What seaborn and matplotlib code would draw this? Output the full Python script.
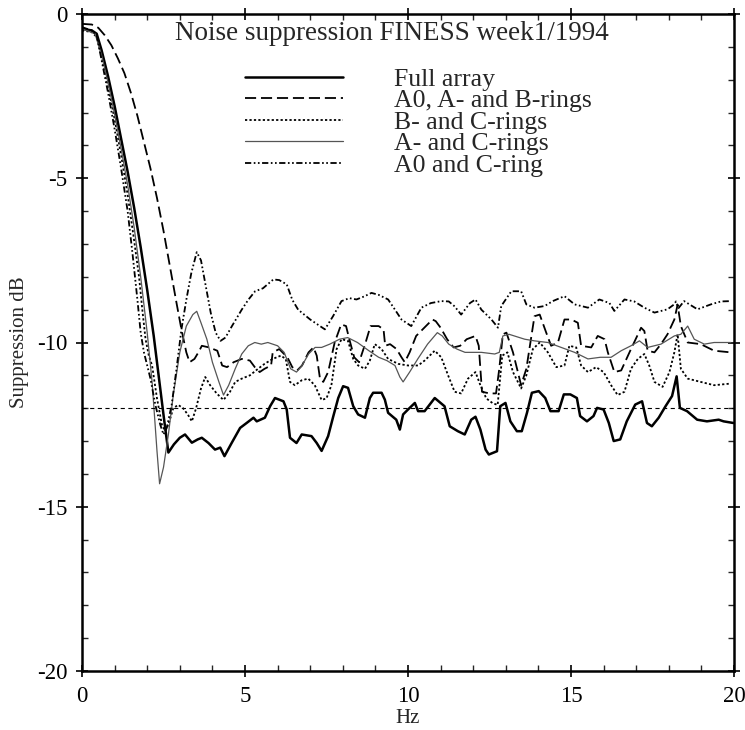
import matplotlib
matplotlib.use("Agg")
import matplotlib.pyplot as plt
from matplotlib.ticker import MultipleLocator
import seaborn as sns
import pandas as pd

# ==========================================
# 1. DATA
# ==========================================
full_hz = [0, 0.3, 0.45, 0.6, 0.8, 1.0, 1.2, 1.4, 1.6, 1.8, 2.0, 2.2, 2.35, 2.5, 2.65,
           2.82, 3.0, 3.16, 3.37, 3.55, 3.675, 3.88, 4.08, 4.24, 4.37, 4.59, 4.85, 5.05,
           5.26, 5.36, 5.61, 5.77, 5.92, 6.18, 6.28, 6.38, 6.58, 6.74, 7.04, 7.2, 7.35,
           7.55, 7.71, 7.86, 8.01, 8.16, 8.32, 8.47, 8.68, 8.83, 8.93, 9.19, 9.29, 9.39,
           9.64, 9.75, 9.85, 10.0, 10.21, 10.31, 10.51, 10.82, 11.12, 11.28, 11.53, 11.74,
           11.94, 12.07, 12.22, 12.38, 12.48, 12.73, 12.83, 12.99, 13.14, 13.34, 13.49,
           13.65, 13.8, 14.01, 14.21, 14.37, 14.62, 14.78, 14.98, 15.18, 15.28, 15.49,
           15.69, 15.8, 16.0, 16.16, 16.31, 16.51, 16.71, 16.97, 17.18, 17.33, 17.48,
           17.69, 17.9, 18.1, 18.24, 18.34, 18.56, 18.87, 19.17, 19.53, 19.68, 19.98]
full_db = [-0.45, -0.5, -0.6, -1.1, -1.9, -2.8, -3.8, -4.8, -5.9, -7.1, -8.4, -9.8, -11.0,
           -12.2, -13.35, -13.1, -12.9, -12.8, -13.05, -12.95, -12.9, -13.06, -13.26, -13.2,
           -13.46, -13.06, -12.6, -12.45, -12.29, -12.4, -12.29, -11.94, -11.69, -11.79,
           -12.04, -12.9, -13.06, -12.8, -12.85, -13.06, -13.3, -12.85, -12.24, -11.69,
           -11.33, -11.38, -11.94, -12.19, -12.29, -11.69, -11.53, -11.53, -11.74, -12.14,
           -12.35, -12.65, -12.19, -12.04, -11.84, -12.09, -12.09, -11.69, -11.94, -12.55,
           -12.7, -12.8, -12.35, -12.26, -12.65, -13.26, -13.41, -13.31, -11.94, -11.84,
           -12.4, -12.7, -12.7, -12.14, -11.53, -11.48, -11.69, -12.09, -12.09, -11.58,
           -11.58, -11.69, -12.24, -12.4, -12.24, -11.99, -12.04, -12.45, -13.0, -12.95,
           -12.4, -11.89, -11.79, -12.45, -12.55, -12.29, -11.94, -11.63, -11.03, -11.99,
           -12.09, -12.35, -12.4, -12.35, -12.4, -12.45]

aab_hz = [0, 0.3, 0.5, 0.7, 0.9, 1.1, 1.3, 1.5, 1.7, 1.9, 2.1, 2.3, 2.5, 2.7, 2.9, 3.05,
          3.2, 3.3, 3.45, 3.6, 3.675, 3.9, 4.15, 4.3, 4.45, 4.65, 4.9, 5.15, 5.3, 5.45,
          5.6, 5.8, 5.85, 6.05, 6.2, 6.3, 6.45, 6.6, 6.75, 6.95, 7.1, 7.2, 7.3, 7.4, 7.55,
          7.75, 7.95, 8.1, 8.2, 8.35, 8.5, 8.7, 8.85, 9.1, 9.25, 9.3, 9.45, 9.65, 9.8, 9.9,
          10.05, 10.25, 10.5, 10.75, 10.85, 11.0, 11.2, 11.4, 11.6, 11.8, 12.07, 12.17,
          12.27, 12.5, 12.7, 12.8, 12.91, 13.02, 13.22, 13.47, 13.63, 13.88, 14.04, 14.24,
          14.39, 14.6, 14.8, 15.01, 15.21, 15.31, 15.62, 15.82, 16.03, 16.13, 16.33, 16.54,
          16.84, 17.15, 17.25, 17.35, 17.56, 17.76, 17.96, 18.17, 18.27, 18.37, 18.58,
          18.98, 19.39, 19.9]
aab_db = [-0.3, -0.32, -0.42, -0.65, -0.95, -1.35, -1.8, -2.4, -3.1, -3.9, -4.7, -5.6,
          -6.6, -7.7, -8.8, -9.6, -10.3, -10.6, -10.5, -10.25, -10.1, -10.15, -10.25, -10.7,
          -10.75, -10.6, -10.5, -10.55, -10.75, -10.9, -10.8, -10.7, -10.3, -10.2, -10.35,
          -10.45, -10.75, -10.85, -10.7, -10.3, -10.15, -10.4, -11.1, -11.2, -10.9, -10.0,
          -9.45, -9.5, -9.9, -10.45, -10.6, -10.0, -9.5, -9.5, -9.6, -10.1, -10.05, -10.2,
          -10.45, -10.6, -10.3, -9.8, -9.55, -9.3, -9.35, -9.55, -9.9, -10.15, -10.1, -9.9,
          -9.8, -10.1, -11.5, -11.55, -11.55, -10.8, -9.75, -9.7, -10.3, -11.3, -10.8, -9.2,
          -9.15, -9.7, -10.1, -10.0, -9.3, -9.3, -9.4, -10.1, -10.15, -9.8, -9.9, -10.3,
          -10.9, -10.85, -10.2, -9.55, -9.65, -10.25, -10.3, -10.05, -9.75, -9.3, -8.85,
          -9.5, -10.0, -10.05, -10.25, -10.3]

bc_hz = [0, 0.3, 0.45, 0.6, 0.8, 1.0, 1.2, 1.4, 1.6, 1.75, 1.85, 1.95, 2.05, 2.15, 2.3,
         2.45, 2.55, 2.65, 2.8, 2.95, 3.1, 3.25, 3.37, 3.5, 3.65, 3.78, 3.93, 4.13, 4.34,
         4.54, 4.7, 4.9, 5.15, 5.4, 5.6, 5.85, 6.1, 6.25, 6.38, 6.53, 6.74, 6.94, 7.14,
         7.35, 7.5, 7.65, 7.81, 7.96, 8.16, 8.32, 8.47, 8.68, 8.83, 8.98, 9.19, 9.39, 9.7,
         10.0, 10.31, 10.51, 10.82, 11.02, 11.23, 11.43, 11.63, 11.84, 12.07, 12.22, 12.4,
         12.6, 12.75, 12.89, 13.05, 13.22, 13.47, 13.63, 13.83, 14.04, 14.29, 14.55, 14.8,
         14.95, 15.16, 15.31, 15.52, 15.77, 16.0, 16.23, 16.43, 16.64, 16.84, 17.05, 17.25,
         17.4, 17.56, 17.81, 18.02, 18.17, 18.27, 18.37, 18.58, 18.98, 19.39, 19.9]
bc_db = [-0.5, -0.55, -0.7, -1.3, -2.2, -3.2, -4.3, -5.5, -6.9, -8.0, -9.0, -9.9, -10.4,
         -10.7, -11.7, -12.5, -12.7, -12.5, -12.0, -11.9, -12.0, -12.2, -12.4, -12.0, -11.4,
         -11.05, -11.3, -11.55, -11.75, -11.5, -11.2, -11.1, -11.0, -10.8, -10.65, -10.5,
         -10.4, -10.5, -11.2, -11.3, -11.15, -11.1, -11.3, -11.75, -11.7, -11.3, -10.2,
         -9.9, -9.95, -10.5, -10.7, -10.8, -10.55, -10.05, -10.2, -10.5, -10.65, -10.7,
         -10.7, -10.55, -10.25, -10.45, -11.0, -11.5, -11.55, -11.1, -10.9, -11.3, -11.7,
         -11.85, -11.9, -10.4, -10.3, -10.9, -11.4, -11.0, -10.2, -10.0, -10.3, -10.75,
         -10.7, -10.1, -10.15, -10.7, -10.9, -10.75, -10.9, -11.3, -11.6, -11.5, -10.8,
         -10.5, -10.35, -10.7, -11.2, -11.35, -10.9, -10.3, -9.75, -10.8, -11.1, -11.2,
         -11.3, -11.25]

ac_hz = [0, 0.4, 0.6, 0.8, 1.0, 1.2, 1.4, 1.6, 1.8, 2.0, 2.15, 2.3, 2.38, 2.5, 2.65, 2.8,
         3.0, 3.2, 3.4, 3.52, 3.65, 3.83, 4.0, 4.2, 4.34, 4.5, 4.7, 4.9, 5.1, 5.3, 5.5,
         5.7, 6.0, 6.2, 6.4, 6.58, 6.75, 6.95, 7.15, 7.35, 7.6, 7.9, 8.15, 8.45, 8.8, 9.1,
         9.35, 9.6, 9.75, 9.85, 10.05, 10.3, 10.6, 10.9, 11.05, 11.25, 11.5, 11.75, 12.0,
         12.25, 12.66, 12.8, 12.91, 13.1, 13.58, 13.88, 14.29, 14.7, 15.11, 15.52, 15.9,
         16.23, 16.54, 16.84, 17.1, 17.35, 17.76, 18.17, 18.37, 18.58, 18.78, 19.09, 19.39,
         19.9]
ac_db = [-0.45, -0.6, -1.25, -2.1, -3.05, -4.1, -5.2, -6.5, -8.0, -9.7, -11.2, -13.3,
         -14.3, -13.8, -12.8, -11.6, -10.3, -9.5, -9.15, -9.05, -9.4, -9.9, -10.6, -11.2,
         -11.6, -11.3, -10.8, -10.35, -10.1, -10.0, -10.05, -10.0, -10.1, -10.3, -10.8,
         -10.9, -10.7, -10.35, -10.15, -10.15, -10.05, -9.9, -9.85, -10.0, -10.25, -10.45,
         -10.55, -10.7, -11.05, -11.2, -10.9, -10.5, -10.05, -9.7, -9.8, -10.05, -10.2,
         -10.3, -10.3, -10.3, -10.35, -10.3, -9.8, -9.75, -9.9, -9.95, -10.0, -10.15, -10.3,
         -10.5, -10.45, -10.45, -10.25, -10.1, -9.95, -10.15, -10.05, -9.8, -9.75, -9.5,
         -9.9, -10.05, -10.0, -10.0]

a0c_hz = [0, 0.3, 0.45, 0.6, 0.8, 1.0, 1.2, 1.4, 1.55, 1.7, 1.8, 1.9, 2.0, 2.1, 2.25, 2.4,
          2.5, 2.6, 2.75, 2.9, 3.05, 3.2, 3.35, 3.52, 3.65, 3.8, 3.95, 4.1, 4.25, 4.4, 4.6,
          4.9, 5.1, 5.31, 5.55, 5.87, 6.05, 6.28, 6.45, 6.63, 7.0, 7.45, 7.7, 7.96, 8.2,
          8.42, 8.65, 8.88, 9.1, 9.39, 9.6, 9.8, 10.1, 10.41, 10.7, 11.02, 11.25, 11.43,
          11.63, 11.9, 12.07, 12.25, 12.56, 12.76, 12.86, 13.17, 13.47, 13.63, 13.88, 14.19,
          14.44, 14.8, 15.11, 15.52, 15.87, 16.18, 16.33, 16.64, 16.94, 17.25, 17.56, 17.96,
          18.15, 18.22, 18.3, 18.47, 18.88, 19.29, 19.6, 19.9]
a0c_db = [-0.4, -0.5, -0.65, -1.4, -2.4, -3.5, -4.7, -6.0, -7.3, -8.7, -9.7, -10.3, -10.7,
          -11.1, -11.9, -12.5, -12.8, -12.6, -11.9, -10.8, -9.6, -8.7, -7.9, -7.25, -7.5,
          -8.3, -9.1, -9.7, -9.95, -9.85, -9.5, -9.0, -8.7, -8.44, -8.35, -8.08, -8.1, -8.23,
          -8.7, -9.0, -9.3, -9.6, -9.2, -8.74, -8.65, -8.69, -8.6, -8.49, -8.55, -8.69, -9.0,
          -9.3, -9.5, -8.94, -8.8, -8.74, -8.75, -8.9, -9.15, -8.8, -8.69, -9.0, -9.3, -9.55,
          -8.89, -8.44, -8.44, -8.84, -8.94, -8.89, -8.74, -8.59, -8.84, -8.94, -8.69, -8.8,
          -9.04, -8.69, -8.75, -8.94, -9.09, -8.99, -8.85, -8.75, -8.95, -8.74, -8.99, -8.84,
          -8.75, -8.74]

threshold_db = -12
series_labels = ["Full array", "A0, A- and B-rings", "B- and C-rings",
                 "A- and C-rings", "A0 and C-ring"]
title_text = "Noise suppression FINESS week1/1994"

# ==========================================
# 2. STYLE
# ==========================================
sns.set_theme(style="ticks")
plt.rcParams['font.family'] = ['Liberation Serif', 'DejaVu Serif']
plt.rcParams['axes.unicode_minus'] = False
plt.rcParams['lines.scale_dashes'] = False

series = [
    (full_hz, full_db, dict(color="black", lw=1.8, ls="-")),
    (aab_hz, aab_db, dict(color="black", lw=1.3, ls=(0, (8, 3.5)))),
    (bc_hz, bc_db, dict(color="black", lw=1.3, ls=(0, (1.6, 1.6)))),
    (ac_hz, ac_db, dict(color="#555555", lw=0.9, ls="-")),
    (a0c_hz, a0c_db, dict(color="black", lw=1.3, ls=(0, (4.5, 1.8, 1.2, 1.8, 1.2, 1.8)))),
]

# ==========================================
# 3. PLOT
# ==========================================
fig = plt.figure(figsize=(7.45, 7.3), dpi=100)
ax = fig.add_axes([82 / 745, 1 - 671 / 730, 652 / 745, 657 / 730])

for (hz, db, kw), label in zip(series, series_labels):
    df = pd.DataFrame({"hz": hz, "db": db})
    sns.lineplot(data=df, x="hz", y="db", ax=ax, label=label, sort=False, **kw)

ax.axhline(threshold_db, color="black", lw=0.8, ls=(0, (3, 2.5)))

ax.set_xlim(0, 20)
ax.set_ylim(-20, 0)
ax.xaxis.set_major_locator(MultipleLocator(5))
ax.xaxis.set_minor_locator(MultipleLocator(1))
ax.yaxis.set_major_locator(MultipleLocator(5))
ax.yaxis.set_minor_locator(MultipleLocator(1))
ax.tick_params(which="major", direction="inout", length=9, width=1.2, pad=6,
               top=True, right=True, labelsize=16.5, colors="black")
ax.tick_params(which="minor", direction="in", length=4, width=1.0, top=True, right=True)
for sp in ax.spines.values():
    sp.set_linewidth(1.8)
    sp.set_color("black")

ax.set_xlabel("Hz", fontsize=15, labelpad=2)
ax.set_ylabel("Suppression dB", fontsize=15, labelpad=6)

ax.text(9.5, -0.6, title_text, ha="center", va="center", fontsize=19.5)

ax.legend(loc="upper left", bbox_to_anchor=(0.25, 0.918), frameon=False,
          handlelength=3.8, handletextpad=2.0, labelspacing=-0.06,
          borderpad=0, borderaxespad=0, fontsize=18.5)

fig.savefig("out.png", dpi=100)
